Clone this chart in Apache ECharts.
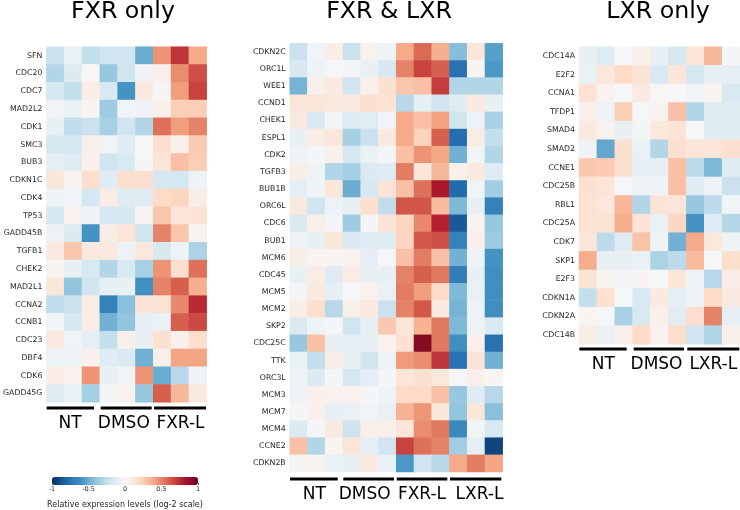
<!DOCTYPE html>
<html>
<head>
<meta charset="utf-8">
<title>Heatmaps</title>
<script src="https://cdn.jsdelivr.net/npm/echarts@6/dist/echarts.min.js"></script>
<style>
html, body { margin: 0; padding: 0; background: #fff; }
#main { width: 740px; height: 510px; }
</style>
</head>
<body>
<div id="main"></div>
<script>
var genesFxr = ['SFN','CDC20','CDC7','MAD2L2','CDK1','SMC3','BUB3','CDKN1C','CDK4','TP53','GADD45B','TGFB1','CHEK2','MAD2L1','CCNA2','CCNB1','CDC23','DBF4','CDK6','GADD45G'];
var valuesFxr = [
    [-.22,-.07,-.24,-.2,-.2,-.5,.45,.72,.38],
    [-.3,-.14,.01,-.38,-.2,-.04,.05,.47,.65],
    [-.18,-.24,.07,-.16,-.6,.1,-.02,.42,.68],
    [-.03,-.07,.02,-.36,-.03,-.04,.05,.25,.25],
    [-.08,-.25,-.22,-.33,-.2,-.3,.55,.42,.5],
    [-.18,-.18,.06,-.03,-.12,-.01,.17,.05,.26],
    [-.1,-.13,.05,-.2,-.16,-.02,.13,.3,.25],
    [.12,.03,.18,-.12,.17,.17,-.18,-.18,-.05],
    [-.05,-.03,-.18,.08,-.13,-.13,.2,.22,.07],
    [-.17,.04,-.05,-.18,-.17,.02,.28,.13,.14],
    [-.06,-.14,-.6,.08,.13,-.2,.5,.28,.03],
    [.1,.28,.1,.1,-.06,.11,-.17,-.06,-.32],
    [.02,-.08,-.16,-.3,-.16,-.33,.45,.17,.55],
    [.12,-.4,-.2,-.09,-.08,-.62,.5,.6,.36],
    [-.25,-.22,.07,-.68,-.42,.14,.14,.48,.75],
    [-.03,-.17,.07,-.48,-.4,-.09,-.07,.6,.66],
    [.1,-.03,-.1,-.24,.06,-.08,.16,.05,.18],
    [-.05,-.05,.05,-.12,-.15,-.48,.06,.4,.4],
    [.07,.04,.45,-.09,-.03,.45,-.5,-.28,-.04],
    [-.13,-.07,-.34,-.02,.04,-.38,.6,.33,.1]
];

var genesBoth = ['CDKN2C','ORC1L','WEE1','CCND1','CHEK1','ESPL1','CDK2','TGFB3','BUB1B','ORC6L','CDC6','BUB1','MCM6','CDC45','MCM5','MCM2','SKP2','CDC25C','TTK','ORC3L','MCM3','MCM7','MCM4','CCNE2','CDKN2B'];
var valuesBoth = [
    [-.22,-.03,.07,-.22,.04,-.05,.38,.57,.36,-.43,.12,-.55],
    [-.17,-.06,-.01,-.02,-.08,-.17,.5,.68,.6,-.75,.02,-.58],
    [-.47,.05,.09,-.2,.05,.16,.28,.3,.7,-.3,-.3,-.3],
    [.13,.12,.1,.1,.17,.15,-.28,-.09,-.2,-.12,.09,-.08],
    [.1,-.15,-.02,-.13,-.11,-.03,.38,.3,.41,-.2,-.06,-.33],
    [-.08,.07,.12,-.34,-.22,.1,.38,.23,.6,-.77,.08,-.24],
    [-.05,-.02,.05,-.18,-.07,-.02,.3,.45,.39,-.48,-.03,-.3],
    [.07,-.04,-.3,-.34,-.15,-.13,.52,.12,.33,.05,.1,-.13],
    [-.1,-.04,.12,-.5,-.17,.14,.3,.55,.82,-.78,-.03,-.35],
    [.1,-.2,-.06,-.08,.16,-.25,.63,.63,.32,-.45,-.08,-.68],
    [-.16,.06,-.02,-.36,-.02,.14,.22,.48,.78,-.85,.04,-.38],
    [-.06,-.08,.12,-.16,-.13,-.13,.22,.62,.65,-.68,.05,-.36],
    [.07,.02,.02,.04,-.1,-.01,.3,.52,.3,-.48,-.05,-.6],
    [-.08,.08,-.13,.08,-.08,-.08,.5,.6,.53,-.7,-.08,-.62],
    [-.02,.1,-.09,-.01,.04,-.07,.52,.42,.2,-.45,-.07,-.62],
    [.07,.17,-.28,.06,.1,-.22,.5,.62,.1,-.47,-.06,-.62],
    [-.15,-.05,-.02,-.2,-.09,.27,.13,.35,.53,-.45,-.06,-.16],
    [-.38,.3,-.08,-.1,-.08,.04,.16,.92,.53,-.62,.05,-.75],
    [-.07,-.24,.08,-.08,-.2,-.04,.43,.47,.72,-.75,.14,-.48],
    [-.05,-.14,-.02,-.18,-.1,-.02,.12,.16,.11,-.01,.06,.02],
    [-.04,.05,.04,.04,-.02,-.04,.2,.2,.3,-.38,-.12,-.28],
    [-.02,.05,-.09,-.07,-.03,-.07,.35,.44,.12,-.4,.12,-.42],
    [-.14,-.02,.09,-.21,.06,.06,.12,.47,.53,-.65,-.03,-.16],
    [.3,-.3,.02,.13,-.1,-.2,.68,.55,.5,-.35,-.09,-.92],
    [-.02,.03,-.07,-.08,.1,-.07,-.58,-.2,-.28,.38,.52,.4]
];

var genesLxr = ['CDC14A','E2F2','CCNA1','TFDP1','SMAD4','SMAD2','CCNE1','CDC25B','RBL1','CDC25A','CDK7','SKP1','E2F3','CDKN1A','CDKN2A','CDC14B'];
var valuesLxr = [
    [-.08,-.13,-.01,.05,-.09,-.17,.13,.33,-.02],
    [-.07,.11,.2,.14,-.16,.12,-.18,-.08,-.09],
    [.15,.03,-.01,.09,.01,0,-.03,.02,-.16],
    [.05,-.06,.25,-.01,.03,.3,-.3,-.12,-.12],
    [.1,.04,-.08,-.02,.11,.14,-.01,-.12,-.12],
    [-.04,-.52,.17,-.07,-.3,.17,.13,.13,.17],
    [.27,.26,.16,-.09,-.1,.3,-.27,-.45,-.12],
    [.16,.13,-.01,-.05,-.05,.3,-.12,-.06,-.22],
    [.15,.11,.33,-.3,.14,.13,-.38,-.26,-.03],
    [.15,.14,.36,.14,-.07,.22,-.6,-.12,-.29],
    [.12,-.26,-.13,.29,-.05,-.48,.38,.11,-.05],
    [.37,-.08,-.08,-.07,-.32,-.27,.32,-.01,.18],
    [.14,.02,-.02,.02,-.01,.13,-.05,-.28,.08],
    [-.24,.16,-.01,-.16,.09,-.1,-.06,.2,.09],
    [.02,-.01,-.33,-.16,.05,-.11,.17,.5,-.1],
    [.08,-.07,.05,.2,.04,.18,-.2,-.3,.05]
];

var titles = ['FXR only', 'FXR & LXR', 'LXR only'];
var colorbarLabel = 'Relative expression levels (log-2 scale)';
var rdBu = ['#053061','#2166ac','#4393c3','#92c5de','#d1e5f0','#f7f7f7','#fddbc7','#f4a582','#d6604d','#b2182b','#67001f'];

var font = 'DejaVu Sans';
var panels = [
    { genes: genesFxr, values: valuesFxr, left: 45.3, top: 46.7, width: 161.4, height: 355.6, titleX: 123,
      barY: 408, textY: 424,
      groups: [['NT', 46.7, 94, 70], ['DMSO', 100.7, 151.7, 123.8], ['FXR-L', 154, 206, 180.5]] },
    { genes: genesBoth, values: valuesBoth, left: 289.7, top: 43.3, width: 213, height: 428.7, titleX: 389,
      barY: 479, textY: 495,
      groups: [['NT', 290, 337.7, 314.3], ['DMSO', 343.3, 394, 364.7], ['FXR-L', 396.7, 447.3, 422], ['LXR-L', 450, 501.3, 479.5]] },
    { genes: genesLxr, values: valuesLxr, left: 579, top: 46.7, width: 161, height: 297.6, titleX: 658,
      barY: 349, textY: 365,
      groups: [['NT', 579.3, 626.7, 603.3], ['DMSO', 633.7, 684, 656.5], ['LXR-L', 687.3, 739.3, 713.3]] }
];

var grid = [], xAxis = [], yAxis = [], series = [], title = [], graphic = [];

panels.forEach(function (p, n) {
    var cols = [];
    p.values[0].forEach(function (v, i) { cols.push(i); });
    var cells = [];
    p.values.forEach(function (row, r) {
        row.forEach(function (v, c) { cells.push([c, r, v]); });
    });

    grid.push({ left: p.left, top: p.top, width: p.width, height: p.height });
    xAxis.push({ type: 'category', gridIndex: n, data: cols, show: false });
    yAxis.push({
        type: 'category', gridIndex: n, data: p.genes, inverse: true,
        axisLine: { show: false },
        axisTick: { length: 2.5, alignWithLabel: true, lineStyle: { color: '#262626', width: 0.7 } },
        axisLabel: { interval: 0, margin: 4, fontSize: 7.8, fontFamily: font, color: '#262626' }
    });

    series.push({
        type: 'heatmap', xAxisIndex: n, yAxisIndex: n, data: cells, silent: true,
        progressive: 0, itemStyle: { borderWidth: 0 }, emphasis: { disabled: true }
    });

    title.push({
        text: titles[n], left: p.titleX, top: 0, padding: 0, textAlign: 'center',
        textStyle: { fontFamily: font, fontSize: 23.7, fontWeight: 'normal', color: '#000' }
    });

    p.groups.forEach(function (g) {
        graphic.push({
            type: 'line', silent: true,
            shape: { x1: g[1], y1: p.barY, x2: g[2], y2: p.barY },
            style: { stroke: '#000', lineWidth: 3 }
        });
        graphic.push({
            type: 'text', silent: true, x: g[3], y: p.textY,
            style: { text: g[0], fontFamily: font, fontSize: 17, fill: '#000', align: 'center', verticalAlign: 'middle' }
        });
    });
});

// value axis under the colorbar
grid.push({ left: 52, top: 477, width: 146, height: 8 });
xAxis.push({
    type: 'value', gridIndex: 3, min: -1, max: 1, interval: 0.5,
    splitLine: { show: false },
    axisLine: { show: false },
    axisTick: { length: 2, lineStyle: { color: '#262626', width: 0.7 } },
    axisLabel: { margin: 3, fontSize: 6.5, fontFamily: font, color: '#262626' },
    name: colorbarLabel, nameLocation: 'middle', nameGap: 18,
    nameTextStyle: { fontSize: 8, fontFamily: font, color: '#262626' }
});
yAxis.push({ type: 'value', gridIndex: 3, show: false });

var myChart = echarts.init(document.getElementById('main'));
myChart.setOption({
    animation: false,
    backgroundColor: '#fff',
    title: title,
    grid: grid,
    xAxis: xAxis,
    yAxis: yAxis,
    series: series,
    graphic: graphic,
    visualMap: {
        type: 'continuous', seriesIndex: [0, 1, 2], min: -1, max: 1,
        orient: 'horizontal', left: 52, top: 477, itemWidth: 8, itemHeight: 146,
        padding: 0, calculable: false, text: null, showLabel: false,
        inRange: { color: rdBu }
    }
});
</script>
</body>
</html>
